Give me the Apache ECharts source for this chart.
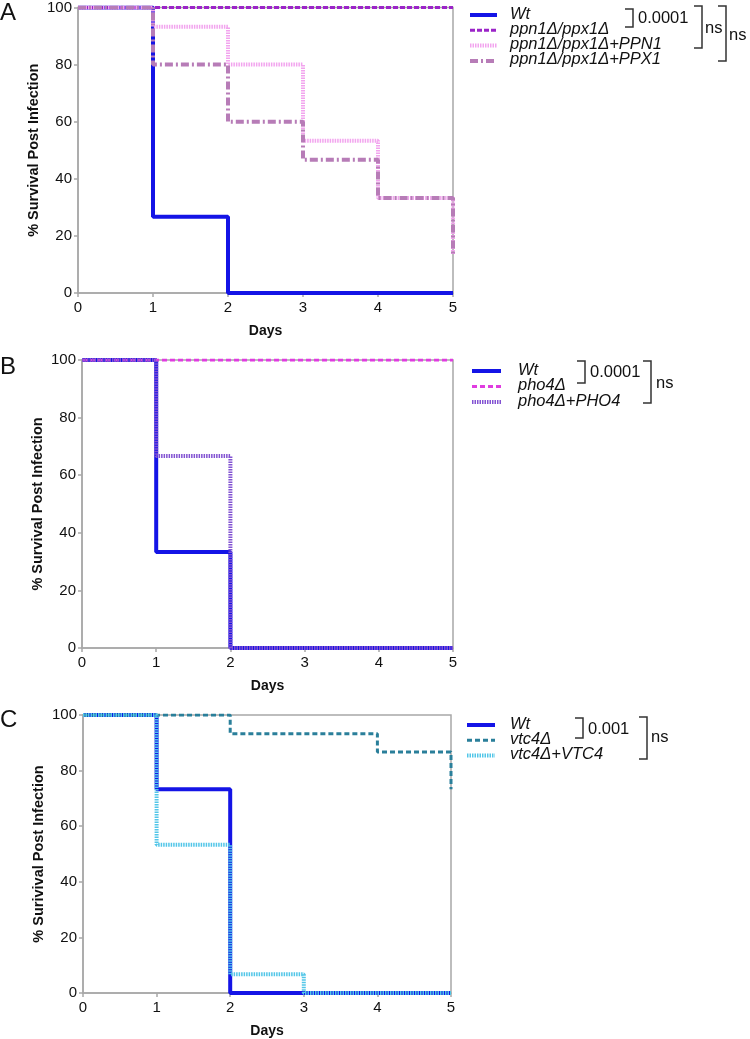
<!DOCTYPE html>
<html>
<head>
<meta charset="utf-8">
<script src="https://cdn.jsdelivr.net/npm/echarts@6/dist/echarts.min.js"></script>
<style>
html,body{margin:0;padding:0;background:#fff;}
#chart{width:750px;height:1039px;}
</style>
</head>
<body>
<div id="chart"></div>
<script>
// ---- Data ----
const days = [0, 1, 2, 3, 4, 5];
const yTicks = [0, 20, 40, 60, 80, 100];

// Panel A
const namesA = ['Wt', 'ppn1Δ/ppx1Δ', 'ppn1Δ/ppx1Δ+PPN1', 'ppn1Δ/ppx1Δ+PPX1'];
const A_wt    = [[0,100],[1,26.7],[2,0],[5,0]];
const A_ppn   = [[0,100],[5,100]];
const A_PPN1  = [[0,100],[1,93.3],[2,80],[3,53.3],[4,33.3],[5,13.3]];
const A_PPX1  = [[0,100],[1,80],[2,60],[3,46.7],[4,33.3],[5,13.3]];

// Panel B
const namesB = ['Wt', 'pho4Δ', 'pho4Δ+PHO4'];
const B_wt   = [[0,100],[1,33.3],[2,0],[5,0]];
const B_pho4 = [[0,100],[5,100]];
const B_PHO4 = [[0,100],[1,66.7],[2,0],[5,0]];

// Panel C
const namesC = ['Wt', 'vtc4Δ', 'vtc4Δ+VTC4'];
const C_wt   = [[0,100],[1,73.3],[2,0],[5,0]];
const C_vtc4 = [[0,100],[2,93.3],[4,86.7],[5,73.3]];
const C_VTC4 = [[0,100],[1,53.3],[2,6.7],[3,0],[5,0]];

const pA = ['0.0001', 'ns', 'ns'];
const pB = ['0.0001', 'ns'];
const pC = ['0.001', 'ns'];

// ---- Styles ----
const FONT = '"Liberation Sans", Arial, sans-serif';
const grids = [
  {left: 78, top: 5, width: 375, height: 288},
  {left: 82, top: 360, width: 371, height: 288},
  {left: 83, top: 715, width: 368, height: 280}
];
const yNames = ['% Survival Post Infection', '% Survival Post Infection', '% Surivival Post Infection'];

const styleA = [
  {color: '#1414e6', width: 4, dash: 'solid'},
  {color: '#9b24c8', width: 3, dash: [5, 2]},
  {color: '#f2a4ee', width: 4, dash: [1.5, 1]},
  {color: '#b77cb7', width: 4, dash: [8, 3, 2, 3]}
];
const styleB = [
  {color: '#1414e6', width: 4, dash: 'solid'},
  {color: '#e03ce0', width: 3, dash: [5, 3]},
  {color: '#8252d2', width: 4, dash: [1.5, 1]}
];
const styleC = [
  {color: '#1414e6', width: 4, dash: 'solid'},
  {color: '#2a7f9a', width: 3, dash: [5, 3]},
  {color: '#52c6e8', width: 4, dash: [1.5, 1]}
];

function xAxis(i) {
  return {
    type: 'value', gridIndex: i, min: 0, max: 5, interval: 1,
    name: 'Days', nameLocation: 'middle', nameGap: 31,
    nameTextStyle: {fontFamily: FONT, fontSize: 14, fontWeight: 'bold', color: '#111'},
    axisLine: {lineStyle: {color: '#a8a8a8', width: 1.5}},
    axisTick: {show: true, length: 4, lineStyle: {color: '#a8a8a8', width: 1.5}},
    axisLabel: {fontFamily: FONT, fontSize: 15, color: '#111', margin: 7},
    splitLine: {show: false}
  };
}
function yAxis(i) {
  return {
    type: 'value', gridIndex: i, min: 0, max: 100, interval: 20,
    name: yNames[i], nameLocation: 'middle', nameGap: 37,
    nameTextStyle: {fontFamily: FONT, fontSize: 14.5, fontWeight: 'bold', color: '#111'},
    axisLine: {lineStyle: {color: '#a8a8a8', width: 1.5}},
    axisTick: {show: true, length: 4, lineStyle: {color: '#a8a8a8', width: 1.5}},
    axisLabel: {fontFamily: FONT, fontSize: 15, color: '#111', margin: 6},
    splitLine: {show: false}
  };
}
function ser(name, data, gi, st) {
  return {
    name: name, type: 'line', xAxisIndex: gi, yAxisIndex: gi,
    data: data, step: 'end', symbol: 'none', showSymbol: false,
    lineStyle: {color: st.color, width: st.width, type: st.dash, cap: 'butt'},
    itemStyle: {color: st.color},
    animation: false
  };
}

const sA = [ser(namesA[0], A_wt, 0, styleA[0]), ser(namesA[1], A_ppn, 0, styleA[1]),
            ser(namesA[2], A_PPN1, 0, styleA[2]), ser(namesA[3], A_PPX1, 0, styleA[3])];
const sB = [ser(namesB[0], B_wt, 1, styleB[0]), ser(namesB[1], B_pho4, 1, styleB[1]),
            ser(namesB[2], B_PHO4, 1, styleB[2])];
const sC = [ser(namesC[0], C_wt, 2, styleC[0]), ser(namesC[1], C_vtc4, 2, styleC[1]),
            ser(namesC[2], C_VTC4, 2, styleC[2])];

function bracket(x, y1, y2) {
  return {type: 'polyline', shape: {points: [[x, y1], [x + 8, y1], [x + 8, y2], [x, y2]]},
          style: {stroke: '#333', lineWidth: 1.5, fill: null}, silent: true};
}
function label(x, y, s, size, italic) {
  return {type: 'text', x: x, y: y, silent: true,
          style: {text: s, fontFamily: FONT, fontSize: size, fontStyle: italic ? 'italic' : 'normal',
                  fill: '#111', verticalAlign: 'middle', align: 'left'}};
}
function legendItems(names, styles, x1, x2, tx, y0, dy) {
  const out = [];
  names.forEach((n, i) => {
    const y = y0 + dy * i;
    const st = styles[i];
    out.push({type: 'line', silent: true, shape: {x1: x1, y1: y + 1, x2: x2, y2: y + 1},
              style: {stroke: st.color, lineWidth: st.width, lineDash: st.dash === 'solid' ? null : st.dash}});
    out.push(label(tx, y, n, 16.5, true));
  });
  return out;
}

const graphics = [
  label(0, 13, 'A', 24), label(0, 367, 'B', 24), label(0, 720, 'C', 24),
  bracket(625, 9, 27), label(638, 18, pA[0], 16.5),
  bracket(694, 6, 48), label(705, 28, pA[1], 16.5),
  bracket(718, 6, 61), label(729, 35, pA[2], 16.5),
  bracket(577, 361, 383), label(590, 372, pB[0], 16.5),
  bracket(643, 361, 403), label(656, 383, pB[1], 16.5),
  bracket(575, 718, 738), label(588, 729, pC[0], 16.5),
  bracket(639, 717, 759), label(651, 737, pC[1], 16.5)
].concat(
  legendItems(namesA, styleA, 470, 497, 510, 14, 15.3),
  legendItems(namesB, styleB, 472, 501, 518, 370, 15.5),
  legendItems(namesC, styleC, 467, 495, 510, 724, 15.3)
);

const chart = echarts.init(document.getElementById('chart'), null, {renderer: 'canvas'});
chart.setOption({
  animation: false,
  backgroundColor: '#fff',
  grid: grids.map(g => Object.assign({show: true, borderColor: '#a8a8a8', borderWidth: 1.5, backgroundColor: 'transparent'}, g)),
  xAxis: [xAxis(0), xAxis(1), xAxis(2)],
  yAxis: [yAxis(0), yAxis(1), yAxis(2)],
  series: [].concat(sA, sB, sC),
  graphic: graphics
});
</script>
</body>
</html>
